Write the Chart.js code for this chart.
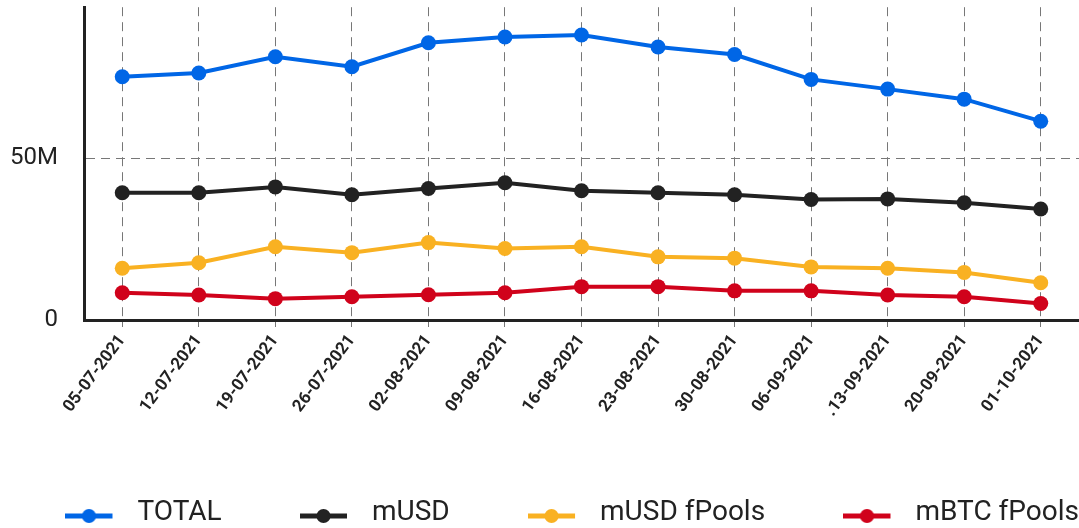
<!DOCTYPE html>
<html>
<head>
<meta charset="utf-8">
<script src="https://cdn.jsdelivr.net/npm/chart.js@4/dist/chart.umd.min.js"></script>
<style>
  html, body { margin: 0; padding: 0; background: #fff; }
  #wrap { width: 1079px; height: 528px; position: relative; }
</style>
</head>
<body>
<div id="wrap"><canvas id="poolsChart"></canvas></div>
<script>
// Weekly dates (x axis)
const dates = ['05-07-2021', '12-07-2021', '19-07-2021', '26-07-2021', '02-08-2021', '09-08-2021',
  '16-08-2021', '23-08-2021', '30-08-2021', '06-09-2021', '.13-09-2021', '20-09-2021', '01-10-2021'];

// Values in millions
const totalValues = [75.1, 76.3, 81.3, 78.2, 85.6, 87.4, 88.0, 84.3, 82.0, 74.3, 71.3, 68.2, 61.4];
const musdValues = [39.3, 39.3, 41.1, 38.7, 40.6, 42.4, 39.9, 39.3, 38.7, 37.2, 37.4, 36.2, 34.3];
const musdPoolValues = [16.0, 17.7, 22.6, 20.8, 23.9, 22.1, 22.6, 19.5, 19.1, 16.4, 16.0, 14.7, 11.5];
const mbtcPoolValues = [8.4, 7.7, 6.6, 7.2, 7.8, 8.4, 10.3, 10.3, 9.0, 9.0, 7.7, 7.2, 5.1];

const seriesNames = ['TOTAL', 'mUSD', 'mUSD fPools', 'mBTC fPools'];
const seriesColors = ['#0066E6', '#222222', '#F9B122', '#D0021B'];
const yTicks = [0, 50];

// Legend icon: short line with a dot, drawn on a small canvas
const ICON_W = 58;
const LEGEND_GAP = '\u2003\u2003\u2002 ';
function makeLegendIcon(color) {
    const c = document.createElement('canvas');
    c.width = ICON_W;
    c.height = 26;
    const g = c.getContext('2d');
    const cy = 16;
    g.strokeStyle = color;
    g.lineWidth = 5;
    g.beginPath();
    g.moveTo(0, cy);
    g.lineTo(47, cy);
    g.stroke();
    g.fillStyle = color;
    g.beginPath();
    g.arc(23.5, cy, 7, 0, Math.PI * 2);
    g.fill();
    return c;
}

function makeDataset(i, values) {
    return {
        label: seriesNames[i],
        data: values,
        borderColor: seriesColors[i],
        backgroundColor: seriesColors[i],
        borderWidth: 4,
        pointRadius: 7.5,
        pointBorderWidth: 0,
        pointBackgroundColor: seriesColors[i],
        tension: 0,
        fill: false
    };
}

const gridDash = [9, 6];

const config = {
    type: 'line',
    data: {
        labels: dates,
        datasets: [
            makeDataset(0, totalValues),
            makeDataset(1, musdValues),
            makeDataset(2, musdPoolValues),
            makeDataset(3, mbtcPoolValues)
        ]
    },
    options: {
        responsive: true,
        maintainAspectRatio: false,
        animation: false,
        layout: {
            autoPadding: false,
            padding: { top: 7, right: 0, bottom: -9, left: 0 }
        },
        scales: {
            x: {
                offset: true,
                afterFit: function(scale) {
                    scale.height = 179;
                    // rotated labels would otherwise pull the plot edges in
                    scale.paddingLeft = 0;
                    scale.paddingRight = 0;
                },
                grid: {
                    color: '#777',
                    lineWidth: 1,
                    tickLength: 7,
                    offset: false
                },
                border: {
                    display: true,
                    color: '#222',
                    width: 3,
                    dash: gridDash
                },
                ticks: {
                    autoSkip: false,
                    minRotation: 53,
                    maxRotation: 53,
                    padding: 4,
                    color: '#222',
                    font: { family: 'Roboto', size: 17, weight: 'bold' }
                }
            },
            y: {
                min: yTicks[0],
                max: 96.6,
                afterFit: function(scale) { scale.width = 84; },
                afterBuildTicks: function(scale) {
                    scale.ticks = yTicks.map(v => ({ value: v }));
                },
                grid: {
                    color: function(ctx) {
                        return ctx.tick && ctx.tick.value === 0 ? 'rgba(0,0,0,0)' : '#777';
                    },
                    lineWidth: 1,
                    drawTicks: true,
                    tickLength: 26,
                    tickColor: 'rgba(0,0,0,0)'
                },
                border: {
                    display: true,
                    color: '#222',
                    width: 3,
                    dash: gridDash
                },
                ticks: {
                    padding: 0,
                    color: '#222',
                    font: { family: 'Roboto', size: 24, lineHeight: 0.6 },
                    callback: function(value) {
                        return value === 0 ? '0' : value + 'M';
                    }
                }
            }
        },
        plugins: {
            legend: {
                position: 'bottom',
                align: 'end',
                labels: {
                    usePointStyle: true,
                    pointStyleWidth: ICON_W,
                    padding: 0,
                    color: '#222',
                    font: { family: 'Roboto', size: 28 },
                    generateLabels: function(chart) {
                        const n = chart.data.datasets.length;
                        return chart.data.datasets.map((ds, i) => ({
                            text: i < n - 1 ? ds.label + LEGEND_GAP : ds.label,
                            fillStyle: ds.borderColor,
                            strokeStyle: ds.borderColor,
                            fontColor: '#222',
                            lineWidth: 0,
                            pointStyle: makeLegendIcon(ds.borderColor),
                            hidden: false,
                            datasetIndex: i
                        }));
                    }
                }
            },
            tooltip: { enabled: false },
            title: { display: false }
        }
    }
};

try {
    new Chart(document.getElementById('poolsChart'), config);
} catch (error) {
    console.error('Error creating chart:', error);
}
</script>
</body>
</html>
